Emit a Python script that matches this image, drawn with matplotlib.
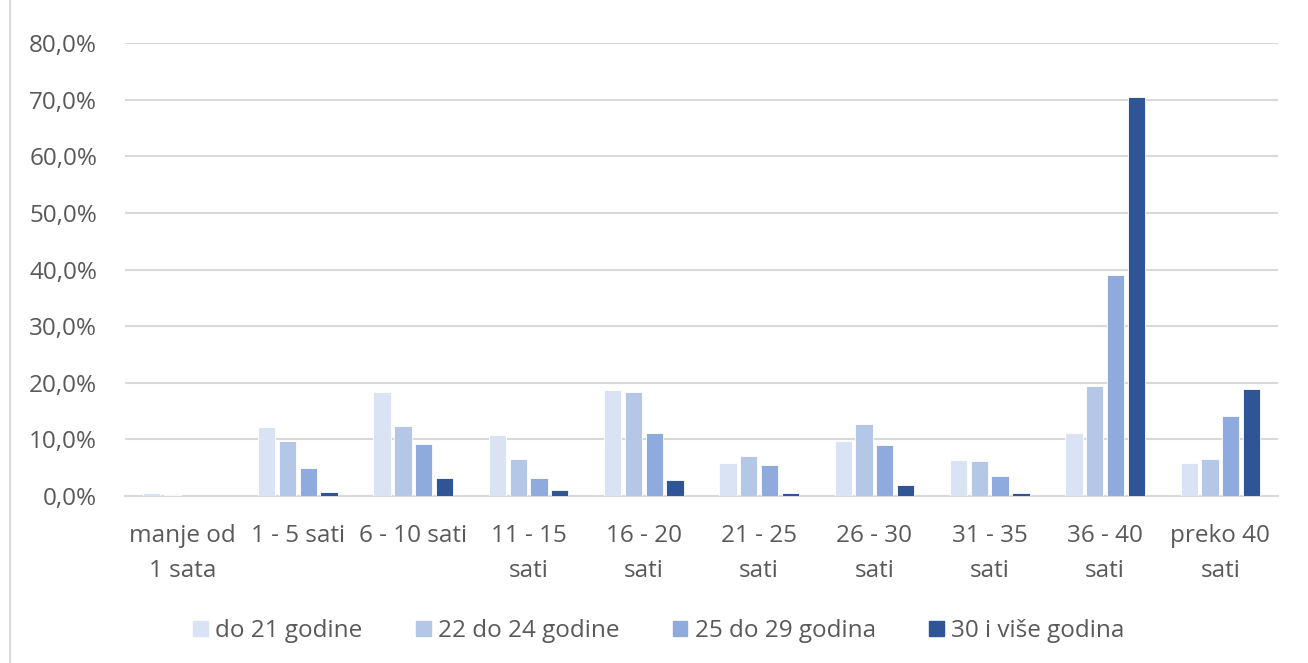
import matplotlib
matplotlib.use("Agg")
import matplotlib.pyplot as plt
import numpy as np
from matplotlib.lines import Line2D

categories = ["manje od\n1 sata", "1 - 5 sati", "6 - 10 sati", "11 - 15\nsati", "16 - 20\nsati",
              "21 - 25\nsati", "26 - 30\nsati", "31 - 35\nsati", "36 - 40\nsati", "preko 40\nsati"]
series_names = ["do 21 godine", "22 do 24 godine", "25 do 29 godina", "30 i više godina"]
do21 = [0.6, 12.1, 18.4, 10.8, 18.7, 5.8, 9.7, 6.3, 11.1, 5.8]
g22_24 = [0.2, 9.8, 12.4, 6.5, 18.4, 7.1, 12.7, 6.1, 19.4, 6.5]
g25_29 = [0.0, 5.0, 9.1, 3.2, 11.1, 5.5, 9.0, 3.5, 39.0, 14.1]
g30plus = [0.0, 0.7, 3.2, 1.0, 2.8, 0.5, 1.9, 0.5, 70.5, 18.9]
yticks = [0, 10, 20, 30, 40, 50, 60, 70, 80]
ytick_labels = ["0,0%", "10,0%", "20,0%", "30,0%", "40,0%", "50,0%", "60,0%", "70,0%", "80,0%"]

colors = ["#DAE3F3", "#B4C7E7", "#8FAADC", "#2F5597"]
text_color = "#595959"
grid_color = "#D9D9D9"

plt.rcParams['font.family'] = ['Open Sans', 'DejaVu Sans']

W, H = 1308, 663
fig = plt.figure(figsize=(W / 100, H / 100), dpi=100)
ax = fig.add_axes([125 / W, 1 - 496 / H, (1278 - 125) / W, (496 - 43) / H])

x = np.arange(len(categories))
step = 0.18
width = 0.15
data = [do21, g22_24, g25_29, g30plus]
for i, (vals, c, name) in enumerate(zip(data, colors, series_names)):
    ax.bar(x + (i - 1.5) * step, vals, width=width, color=c, edgecolor="white",
           linewidth=0.6, label=name, zorder=3)

ax.set_xlim(-0.5, len(categories) - 0.5)
ax.set_ylim(0, 80)
ax.set_yticks(yticks)
ax.set_yticklabels(ytick_labels)
ax.set_xticks(x)
ax.set_xticklabels(categories, linespacing=1.65)
ax.tick_params(axis="both", length=0, labelsize=17.5, labelcolor=text_color)
ax.tick_params(axis="y", pad=20)
ax.tick_params(axis="x", pad=20)
ax.grid(axis="y", color=grid_color, linewidth=1.5, zorder=0)
for s in ["top", "right", "left"]:
    ax.spines[s].set_visible(False)
ax.spines["bottom"].set_color(grid_color)
ax.spines["bottom"].set_linewidth(1.5)

handles = [plt.Rectangle((0, 0), 1, 1, color=c) for c in colors]
fig.legend(handles, series_names, loc="center", bbox_to_anchor=(659 / W, 1 - 631 / H),
           ncol=4, frameon=False, fontsize=17.5, labelcolor=text_color,
           handlelength=0.6, handleheight=0.6, handletextpad=0.3, columnspacing=2.2)

fig.add_artist(Line2D([10 / W, 10 / W], [0, 1], color=grid_color, linewidth=1.5,
                      transform=fig.transFigure))

fig.savefig("out.png", dpi=100)
